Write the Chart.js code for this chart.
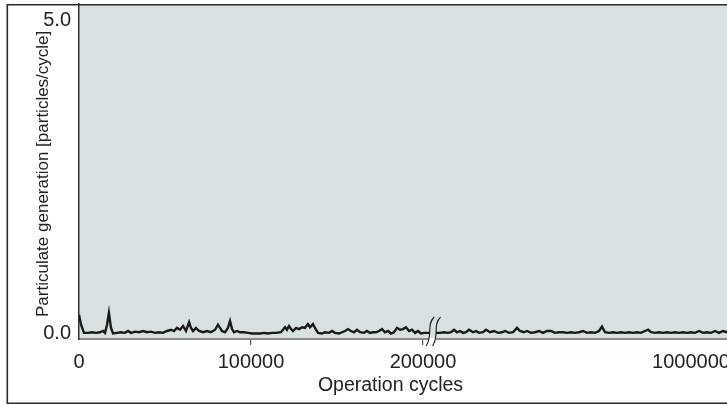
<!DOCTYPE html>
<html lang="en">
<head>
  <meta charset="UTF-8" />
  <title>Particulate generation vs operation cycles</title>
  <script src="https://cdn.jsdelivr.net/npm/chart.js"></script>
  <style>
    html, body { margin: 0; padding: 0; background: #fff; overflow: hidden; }
    #wrap { width: 727px; height: 405px; overflow: hidden; position: relative; }
    #chart { display: block; }
  </style>
</head>
<body>
  <div id="wrap">
    <canvas id="chart" width="760" height="405"></canvas>
  </div>

  <script>
    // axis ticks
    const X_TICKS = [0, 100000, 200000, 1000000];
    const X_TICK_LABELS = ['0', '100000', '200000', '1000000'];
    const Y_TICKS = [0, 5];
    const Y_TICK_LABELS = ['0.0', '5.0'];
    const X_TITLE = 'Operation cycles';
    const Y_TITLE = 'Particulate generation [particles/cycle] ';

    // axis break: everything after BREAK_AT is squeezed by AFTER_BREAK_SCALE
    const BREAK_AT = 206000;
    const AFTER_BREAK_SCALE = 0.18869;

    // operation cycles
    const cycles = [
      0, 1200, 2900, 5200, 7600, 9900, 12200, 14000, 15100, 16300, 17400, 18600, 19800,
      22100, 24400, 26700, 28500, 30200, 32600, 34900, 37200, 39500, 41900, 44200, 46500,
      48800, 51200, 53500, 55200, 57000, 58700, 60500, 62200, 64000, 65100, 66300, 68000,
      69800, 72100, 74400, 76700, 79100, 80800, 82000, 83100, 84900, 86600, 87800, 89000,
      90100, 91900, 93600, 95900, 98300, 100600, 102900, 105200, 107600, 109900, 112200,
      114500, 117400, 119800, 120900, 122100, 123300, 124400, 126200, 127900, 129700,
      131400, 133100, 134300, 136000, 137800, 139000, 141300, 143000, 145400, 147100,
      148800, 151200, 152900, 154700, 156400, 158100, 159900, 161600, 163400, 165700,
      167400, 169200, 170900, 172700, 174400, 176200, 177900, 179700, 181400, 183100,
      184900, 186600, 188400, 190100, 191900, 193600, 195400, 197100, 198800, 200600,
      202900,
      226600, 239000, 251300, 260500, 269800, 279000, 288300, 297500, 306800, 316000,
      328300, 337600, 346800, 359100, 368400, 380700, 393000, 405400, 417700, 426900,
      439300, 451600, 463900, 473100, 485500, 494700, 507000, 519400, 531700, 544000,
      556300, 568700, 581000, 593300, 605600, 618000, 630300, 642600, 654900, 667300,
      679600, 691900, 704200, 716600, 725800, 735100, 747400, 759700, 772000, 784400,
      796700, 809000, 821300, 833700, 846000, 858300, 867600, 876800, 889100, 901400,
      913800, 926100, 938400, 950700, 963100, 975400, 987700, 1000000, 1012400, 1024700,
      1037000, 1049300, 1061700, 1074000, 1086300, 1098600, 1111000, 1123300
    ];

    // particles per cycle
    const particles = [
      0.30, 0.14, 0.01, 0.01, 0.02, 0.01, 0.02, 0.04, 0.01, 0.14, 0.33, 0.09, 0.00,
      0.01, 0.02, 0.01, 0.04, 0.01, 0.03, 0.02, 0.04, 0.02, 0.03, 0.01, 0.02,
      0.01, 0.04, 0.06, 0.04, 0.09, 0.06, 0.12, 0.04, 0.18, 0.09, 0.04, 0.09,
      0.04, 0.02, 0.04, 0.02, 0.06, 0.14, 0.09, 0.04, 0.02, 0.09, 0.20, 0.07,
      0.02, 0.04, 0.02, 0.02, 0.01, 0.00, 0.00, 0.00, 0.01, 0.00, 0.01,
      0.01, 0.02, 0.10, 0.06, 0.12, 0.07, 0.04, 0.09, 0.07, 0.10,
      0.09, 0.15, 0.10, 0.15, 0.06, 0.01, 0.00, 0.02, 0.01, 0.04,
      0.01, 0.00, 0.02, 0.04, 0.07, 0.04, 0.02, 0.06, 0.02, 0.01,
      0.04, 0.01, 0.02, 0.02, 0.04, 0.07, 0.02, 0.04, 0.00, 0.02,
      0.09, 0.06, 0.07, 0.10, 0.04, 0.06, 0.01, 0.04, 0.00, 0.01,
      0.01,
      0.01, 0.02, 0.01, 0.02, 0.06, 0.02, 0.04, 0.01, 0.02, 0.06,
      0.02, 0.04, 0.01, 0.02, 0.06, 0.02, 0.04, 0.01, 0.02, 0.04,
      0.01, 0.02, 0.09, 0.04, 0.02, 0.04, 0.01, 0.02, 0.04, 0.01,
      0.04, 0.04, 0.01, 0.02, 0.02, 0.01, 0.02, 0.01, 0.02, 0.04,
      0.01, 0.02, 0.01, 0.04, 0.11, 0.02, 0.01, 0.02, 0.01, 0.02,
      0.01, 0.02, 0.01, 0.02, 0.01, 0.04, 0.06, 0.02, 0.01, 0.02,
      0.01, 0.02, 0.01, 0.02, 0.01, 0.02, 0.01, 0.02, 0.01, 0.04,
      0.01, 0.02, 0.01, 0.04, 0.01, 0.04, 0.02, 0.02
    ];

    const FONT = "'Liberation Sans', Arial, Helvetica, sans-serif";
    const TEXT = '#222';
    const PLOT_BG = '#d8e0e1';

    function toAxis(c) {
      return c <= BREAK_AT ? c : BREAK_AT + (c - BREAK_AT) * AFTER_BREAK_SCALE;
    }

    const points = cycles.map((c, i) => ({ x: toAxis(c), y: particles[i] }));

    // keep the plot box where the original has it
    function noPad(s) {
      s.paddingTop = 0; s.paddingBottom = 0; s.paddingLeft = 0; s.paddingRight = 0;
    }

    // plot background, outer frame and the x title (the original figure is cropped on the right,
    // so its title is centred on the uncropped width, not on the visible axis)
    const frame = {
      id: 'frame',
      beforeDraw(chart) {
        const { ctx, chartArea: a } = chart;
        ctx.save();
        ctx.fillStyle = PLOT_BG;
        ctx.fillRect(a.left, a.top, a.right - a.left, a.bottom - a.top);
        ctx.restore();
      },
      afterDraw(chart) {
        const { ctx, width, chartArea: a } = chart;
        ctx.save();
        ctx.fillStyle = TEXT;
        ctx.font = '19.5px ' + FONT;
        ctx.textAlign = 'center';
        ctx.textBaseline = 'alphabetic';
        ctx.fillText(X_TITLE, (a.left + 702) / 2, 391);

        ctx.strokeStyle = '#2a2a2a';
        ctx.lineWidth = 1.6;
        ctx.beginPath();
        ctx.moveTo(width + 5, 4.8);
        ctx.lineTo(7.3, 4.8);
        ctx.lineTo(7.3, 403.2);
        ctx.lineTo(width + 5, 403.2);
        ctx.stroke();
        ctx.restore();
      }
    };

    // "((" break mark on the x axis
    const axisBreak = {
      id: 'axisBreak',
      afterDatasetsDraw(chart) {
        const { ctx, chartArea: a } = chart;
        const xb = chart.scales.x.getPixelForValue(toAxis(BREAK_AT));
        const top = 317, bot = 346, gap = 3.2;
        const curve = (dx) => {
          ctx.moveTo(xb + dx + 4, top);
          ctx.bezierCurveTo(xb + dx - 4, top + 8, xb + dx + 3, bot - 10, xb + dx - 4, bot);
        };
        const gapPath = () => {
          ctx.beginPath();
          ctx.moveTo(xb - gap + 4, top);
          ctx.bezierCurveTo(xb - gap - 4, top + 8, xb - gap + 3, bot - 10, xb - gap - 4, bot);
          ctx.lineTo(xb + gap - 4, bot);
          ctx.bezierCurveTo(xb + gap + 3, bot - 10, xb + gap - 4, top + 8, xb + gap + 4, top);
          ctx.closePath();
        };
        ctx.save();
        ctx.save();
        ctx.beginPath();
        ctx.rect(0, 0, chart.width, a.bottom - 1);
        ctx.clip();
        gapPath();
        ctx.fillStyle = PLOT_BG;
        ctx.fill();
        ctx.restore();
        ctx.save();
        ctx.beginPath();
        ctx.rect(0, a.bottom - 1, chart.width, 30);
        ctx.clip();
        gapPath();
        ctx.fillStyle = '#fff';
        ctx.fill();
        ctx.restore();
        ctx.strokeStyle = '#1a1a1a';
        ctx.lineWidth = 1.1;
        ctx.beginPath();
        curve(-gap);
        curve(gap);
        ctx.stroke();
        ctx.restore();
      }
    };

    new Chart(document.getElementById('chart'), {
      type: 'line',
      data: {
        datasets: [{
          label: 'Particulate generation',
          data: points,
          borderColor: '#1a1a1a',
          borderWidth: 2.4,
          pointRadius: 0,
          tension: 0,
          fill: false
        }]
      },
      options: {
        responsive: false,
        animation: false,
        events: [],
        layout: { padding: { top: 4, left: 0, right: 0, bottom: 0 } },
        plugins: { legend: { display: false }, tooltip: { enabled: false } },
        scales: {
          x: {
            type: 'linear',
            min: 0,
            max: (760 - 79) * 581.4,
            afterFit: (s) => { s.height = 66; noPad(s); },
            afterBuildTicks: (s) => { s.ticks = X_TICKS.map(v => ({ value: toAxis(v) })); },
            grid: {
              drawOnChartArea: false,
              drawTicks: true,
              tickLength: 6,
              lineWidth: 1.2,
              color: (c) => (c.index === 1 || c.index === 2) ? '#555' : 'rgba(0,0,0,0)'
            },
            border: { display: true, color: '#8a8a8a', width: 2 },
            ticks: {
              autoSkip: false,
              maxRotation: 0,
              padding: 5,
              color: TEXT,
              font: { family: FONT, size: 20 },
              callback: (v, i) => X_TICK_LABELS[i]
            },
            title: { display: false }
          },
          y: {
            min: -0.088,
            max: 5.264,
            afterFit: (s) => { s.width = 79; noPad(s); },
            afterBuildTicks: (s) => { s.ticks = Y_TICKS.map(v => ({ value: v })); },
            grid: { drawOnChartArea: false, drawTicks: false },
            border: { display: true, color: '#333', width: 1.5 },
            ticks: {
              padding: 8,
              color: TEXT,
              font: { family: FONT, size: 20 },
              callback: (v, i) => Y_TICK_LABELS[i]
            },
            title: {
              display: true,
              text: Y_TITLE,
              color: TEXT,
              font: { family: FONT, size: 17 },
              padding: { top: 33, bottom: 0 }
            }
          }
        }
      },
      plugins: [frame, axisBreak]
    });
  </script>
</body>
</html>
